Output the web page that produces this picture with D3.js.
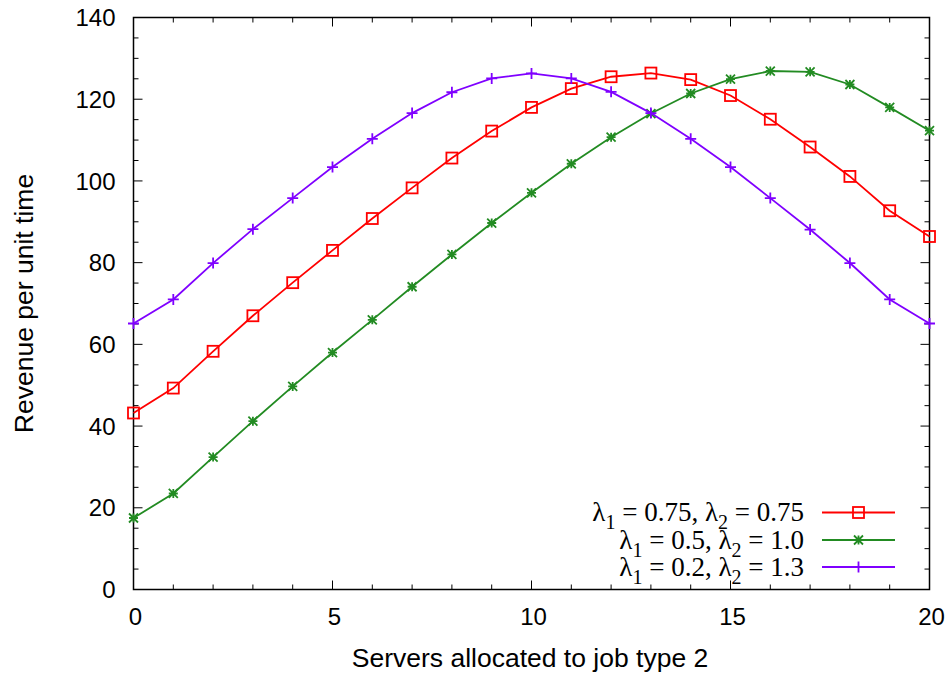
<!DOCTYPE html>
<html><head><meta charset="utf-8">
<script src="https://cdn.jsdelivr.net/npm/d3@7"></script>
<style>body{margin:0;background:#fff}svg{display:block}</style>
</head><body>
<script>
const xs = [0,1,2,3,4,5,6,7,8,9,10,11,12,13,14,15,16,17,18,19,20];
const redVals = [43.2,49.3,58.3,67.0,75.1,83.0,90.8,98.3,105.6,112.2,118.0,122.6,125.5,126.4,124.8,120.9,115.1,108.3,101.1,92.7,86.4];
const greenVals = [17.5,23.5,32.4,41.2,49.7,58.0,66.0,74.1,82.0,89.7,97.1,104.2,110.7,116.5,121.4,124.9,126.9,126.7,123.6,118.0,112.3];
const purpleVals = [65.1,71.0,79.9,88.2,95.8,103.4,110.3,116.6,121.7,125.1,126.3,125.1,121.8,116.6,110.3,103.4,95.8,88.1,79.9,71.0,65.1];
const xTicks = [0,5,10,15,20];
const yTicks = [0,20,40,60,80,100,120,140];
const series = [
  {name:["0.75","0.75"], vals: redVals, color:"#ff0000", marker:"square"},
  {name:["0.5","1.0"], vals: greenVals, color:"#228b22", marker:"star"},
  {name:["0.2","1.3"], vals: purpleVals, color:"#7f00ff", marker:"plus"}
];

const W=952,H=675;
const svg=d3.select("body").append("svg").attr("width",W).attr("height",H);
const x=d3.scaleLinear().domain([0,20]).range([133.5,929.5]);
const y=d3.scaleLinear().domain([0,140]).range([589.5,17.5]);

const g=svg.append("g");
const minorX=d3.range(0,21,1), minorY=d3.range(0,141,5);
const tk=g.append("g").attr("stroke","#000").attr("stroke-width",1);
minorX.forEach(v=>{
  const len = xTicks.includes(v)?9:5;
  tk.append("line").attr("x1",x(v)).attr("x2",x(v)).attr("y1",y(0)).attr("y2",y(0)-len);
  tk.append("line").attr("x1",x(v)).attr("x2",x(v)).attr("y1",y(140)).attr("y2",y(140)+len);
});
minorY.forEach(v=>{
  const len = yTicks.includes(v)?9:5;
  tk.append("line").attr("x1",x(0)).attr("x2",x(0)+len).attr("y1",y(v)).attr("y2",y(v));
  tk.append("line").attr("x1",x(20)).attr("x2",x(20)-len).attr("y1",y(v)).attr("y2",y(v));
});
g.append("rect").attr("x",x(0)).attr("y",y(140)).attr("width",x(20)-x(0)).attr("height",y(0)-y(140))
  .attr("fill","none").attr("stroke","#000").attr("stroke-width",1.5);

const lab=g.append("g").attr("font-family","Liberation Sans, Arial, sans-serif").attr("fill","#000");
yTicks.forEach(v=>lab.append("text").attr("font-size",24).attr("x",x(0)-18).attr("y",y(v)).attr("dy","0.36em").attr("text-anchor","end").text(v));
xTicks.forEach(v=>lab.append("text").attr("font-size",24).attr("x",x(v)+2).attr("y",625).attr("text-anchor","middle").text(v));
lab.append("text").attr("font-size",26.5).attr("x",530).attr("y",667).attr("text-anchor","middle").text("Servers allocated to job type 2");
lab.append("text").attr("font-size",26.5).attr("transform",`translate(33,${(y(0)+y(140))/2}) rotate(-90)`).attr("text-anchor","middle").text("Revenue per unit time");

function drawMarker(sel,cx,cy,type,color){
  if(type==="square"){
    sel.append("rect").attr("x",cx-5.5).attr("y",cy-5.5).attr("width",11).attr("height",11).attr("fill","none").attr("stroke",color).attr("stroke-width",1.8);
  } else if(type==="star"){
    const s=4.5;
    sel.append("path").attr("d",`M${cx-s},${cy}H${cx+s}M${cx},${cy-s}V${cy+s}M${cx-s},${cy-s}L${cx+s},${cy+s}M${cx-s},${cy+s}L${cx+s},${cy-s}`).attr("stroke",color).attr("stroke-width",1.8);
  } else {
    const s=5.5;
    sel.append("path").attr("d",`M${cx-s},${cy}H${cx+s}M${cx},${cy-s}V${cy+s}`).attr("stroke",color).attr("stroke-width",1.8);
  }
}
const line=d3.line().x((d,i)=>x(xs[i])).y(d=>y(d));
series.forEach(s=>{
  g.append("path").datum(s.vals).attr("d",line).attr("fill","none").attr("stroke",s.color).attr("stroke-width",1.8);
  const mg=g.append("g");
  s.vals.forEach((v,i)=>drawMarker(mg,x(xs[i]),y(v),s.marker,s.color));
});

// legend
const ly=[512.5,540,567];
series.forEach((s,i)=>{
  const t=g.append("text").attr("x",804).attr("y",ly[i]).attr("dy","0.33em").attr("text-anchor","end")
    .attr("font-family","Liberation Serif, Times New Roman, serif").attr("font-size",27).attr("fill","#000");
  t.append("tspan").text("λ");
  t.append("tspan").attr("font-size",20).attr("dy",8).text("1");
  t.append("tspan").attr("dy",-8).text(" = "+s.name[0]+", λ");
  t.append("tspan").attr("font-size",20).attr("dy",8).text("2");
  t.append("tspan").attr("dy",-8).text(" = "+s.name[1]);
  g.append("line").attr("x1",822).attr("x2",895).attr("y1",ly[i]).attr("y2",ly[i]).attr("stroke",s.color).attr("stroke-width",1.8);
  drawMarker(g,858.5,ly[i],s.marker,s.color);
});
</script>
</body></html>
